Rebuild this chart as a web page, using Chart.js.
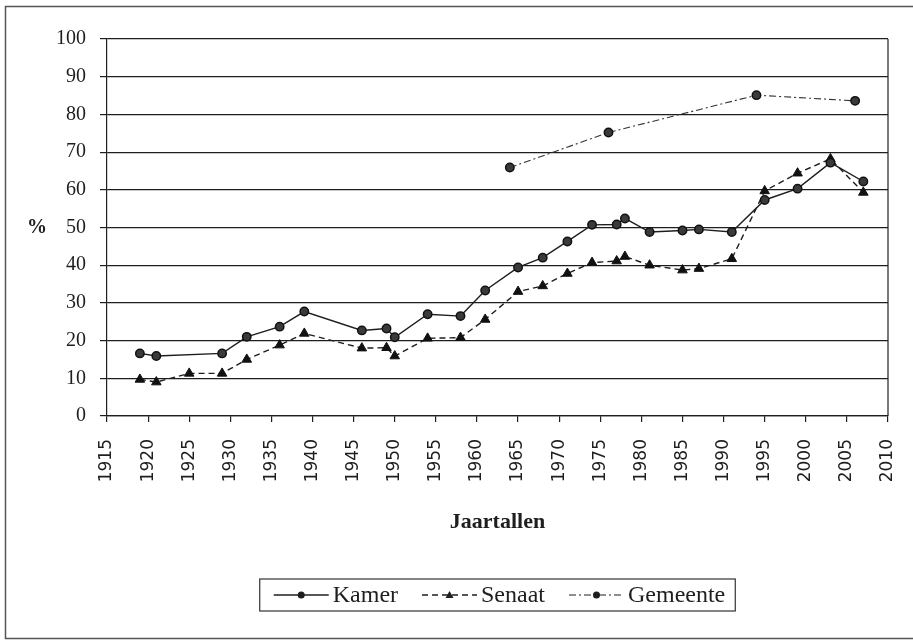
<!DOCTYPE html>
<html>
<head>
<meta charset="utf-8">
<script src="https://cdn.jsdelivr.net/npm/chart.js@4.4.1/dist/chart.umd.min.js"></script>
<style>
  body { margin: 0; background: #fff; }
  canvas { display: block; }
</style>
</head>
<body>
<canvas id="chart" width="913" height="640"></canvas>
<script>
// DATA
const kamerYears = [1919, 1921, 1929, 1932, 1936, 1939, 1946, 1949, 1950, 1954, 1958, 1961, 1965, 1968, 1971, 1974, 1977, 1978, 1981, 1985, 1987, 1991, 1995, 1999, 2003, 2007];
const kamerValues = [16.6, 15.9, 16.6, 21.0, 23.7, 27.7, 22.7, 23.2, 20.9, 27.0, 26.5, 33.3, 39.4, 42.0, 46.3, 50.7, 50.8, 52.4, 48.8, 49.2, 49.5, 48.8, 57.3, 60.3, 67.2, 62.2];

const senaatYears = [1919, 1921, 1925, 1929, 1932, 1936, 1939, 1946, 1949, 1950, 1954, 1958, 1961, 1965, 1968, 1971, 1974, 1977, 1978, 1981, 1985, 1987, 1991, 1995, 1999, 2003, 2007];
const senaatValues = [9.7, 9.0, 11.3, 11.3, 15.0, 18.8, 21.9, 18.0, 18.1, 15.9, 20.6, 20.8, 25.6, 33.0, 34.5, 37.8, 40.7, 41.1, 42.3, 40.0, 38.7, 39.1, 41.7, 59.7, 64.4, 68.2, 59.3];

const gemeenteYears = [1964, 1976, 1994, 2006];
const gemeenteValues = [65.9, 75.2, 85.1, 83.6];

const seriesNames = ["Kamer", "Senaat", "Gemeente"];
const yearMin = 1915, yearMax = 2010, yearStep = 5;
const pctMin = 0, pctMax = 100, pctStep = 10;
const xTitle = "Jaartallen";
const yTitle = "%";

const ink = "#1e1e1e";
const serif = "'Liberation Serif', 'DejaVu Serif', serif";

function toPoints(xs, ys) {
    return xs.map((x, i) => ({ x: x, y: ys[i] }));
}

// frame, right border, "%" label, legend
const extras = {
    id: "extras",
    beforeDraw(chart) {
        const ctx = chart.ctx;
        ctx.save();
        ctx.strokeStyle = "#555";
        ctx.lineWidth = 1.5;
        ctx.strokeRect(5.5, 6.5, chart.width + 10, chart.height - 8);
        ctx.restore();
    },
    afterDraw(chart) {
        const ctx = chart.ctx;
        const a = chart.chartArea;
        ctx.save();
        ctx.strokeStyle = ink;
        ctx.lineWidth = 1.2;
        ctx.beginPath();
        ctx.moveTo(a.right, a.top);
        ctx.lineTo(a.right, a.bottom);
        ctx.stroke();

        // % label
        ctx.fillStyle = ink;
        ctx.font = "bold 20px " + serif;
        ctx.textAlign = "center";
        ctx.textBaseline = "middle";
        ctx.fillText(yTitle, 37, chart.scales.y.getPixelForValue(50));

        // LEGEND
        ctx.font = "24px " + serif;
        const symLen = 55, gap = 4, between = 24, padL = 14, padR = 10;
        const widths = chart.data.datasets.map(d => ctx.measureText(d.label).width);
        let total = padL + padR;
        widths.forEach((w, i) => { total += symLen + gap + w + (i < widths.length - 1 ? between : 0); });
        const cx = (a.left + a.right) / 2;
        const boxTop = 579, boxH = 32;
        let x = cx - total / 2;
        ctx.strokeStyle = "#333";
        ctx.lineWidth = 1.2;
        ctx.strokeRect(x, boxTop, total, boxH);
        const my = boxTop + boxH / 2;
        x += padL;
        chart.data.datasets.forEach((d, i) => {
            ctx.strokeStyle = ink;
            ctx.lineWidth = d.borderWidth;
            ctx.setLineDash(d.borderDash || []);
            ctx.beginPath();
            ctx.moveTo(x, my);
            ctx.lineTo(x + symLen, my);
            ctx.stroke();
            ctx.setLineDash([]);
            ctx.fillStyle = ink;
            const px = x + symLen / 2;
            if (d.pointStyle === "triangle") {
                ctx.beginPath();
                ctx.moveTo(px, my - 4);
                ctx.lineTo(px + 4, my + 3);
                ctx.lineTo(px - 4, my + 3);
                ctx.closePath();
                ctx.fill();
            } else {
                ctx.beginPath();
                ctx.arc(px, my, 3.5, 0, Math.PI * 2);
                ctx.fill();
            }
            ctx.textAlign = "left";
            ctx.fillText(d.label, x + symLen + gap, my + 1);
            x += symLen + gap + widths[i] + between;
        });
        ctx.restore();
    }
};

const chart = new Chart(document.getElementById("chart"), {
    type: "line",
    data: {
        datasets: [{
            label: seriesNames[0],
            data: toPoints(kamerYears, kamerValues),
            borderColor: ink,
            backgroundColor: ink,
            borderWidth: 1.4,
            pointStyle: "circle",
            pointRadius: 4.2,
            pointBorderColor: "#111",
            pointBackgroundColor: "#3a3a3a",
            pointBorderWidth: 1.5,
            tension: 0
        }, {
            label: seriesNames[1],
            data: toPoints(senaatYears, senaatValues),
            borderColor: ink,
            backgroundColor: ink,
            borderWidth: 1.4,
            borderDash: [6, 4],
            pointStyle: "triangle",
            pointRadius: 5.5,
            pointBorderColor: "#111",
            pointBackgroundColor: "#111",
            pointBorderWidth: 1,
            tension: 0
        }, {
            label: seriesNames[2],
            data: toPoints(gemeenteYears, gemeenteValues),
            borderColor: "#333",
            backgroundColor: ink,
            borderWidth: 1.1,
            borderDash: [7, 3, 2, 3],
            pointStyle: "circle",
            pointRadius: 4.2,
            pointBorderColor: "#111",
            pointBackgroundColor: "#3a3a3a",
            pointBorderWidth: 1.5,
            tension: 0
        }]
    },
    options: {
        responsive: false,
        animation: false,
        events: [],
        layout: { padding: { left: 5, top: 39, right: 25, bottom: 94 } },
        plugins: {
            legend: { display: false },
            tooltip: { enabled: false }
        },
        scales: {
            x: {
                type: "linear",
                min: yearMin,
                max: yearMax,
                afterFit: s => { s.height = 130; s.paddingLeft = 0; s.paddingRight = 0; },
                border: { display: true, color: ink, width: 1.2 },
                grid: { drawOnChartArea: false, drawTicks: true, tickLength: 6, color: ink, lineWidth: 1.2 },
                ticks: {
                    stepSize: yearStep,
                    autoSkip: false,
                    minRotation: 90,
                    maxRotation: 90,
                    padding: 17,
                    color: ink,
                    font: { family: "'DejaVu Sans', sans-serif", size: 17 },
                    callback: v => String(v)
                },
                title: {
                    display: true,
                    text: xTitle,
                    color: ink,
                    font: { family: serif, size: 22, weight: "bold" },
                    padding: { top: 0, bottom: 10 }
                }
            },
            y: {
                min: pctMin,
                max: pctMax,
                afterFit: s => { s.width = 102; },
                border: { display: true, color: ink, width: 1.2 },
                grid: { color: ink, lineWidth: 1.2, tickLength: 7 },
                ticks: {
                    stepSize: pctStep,
                    padding: 14,
                    color: ink,
                    font: { family: serif, size: 20 }
                }
            }
        }
    },
    plugins: [extras]
});
</script>
</body>
</html>
